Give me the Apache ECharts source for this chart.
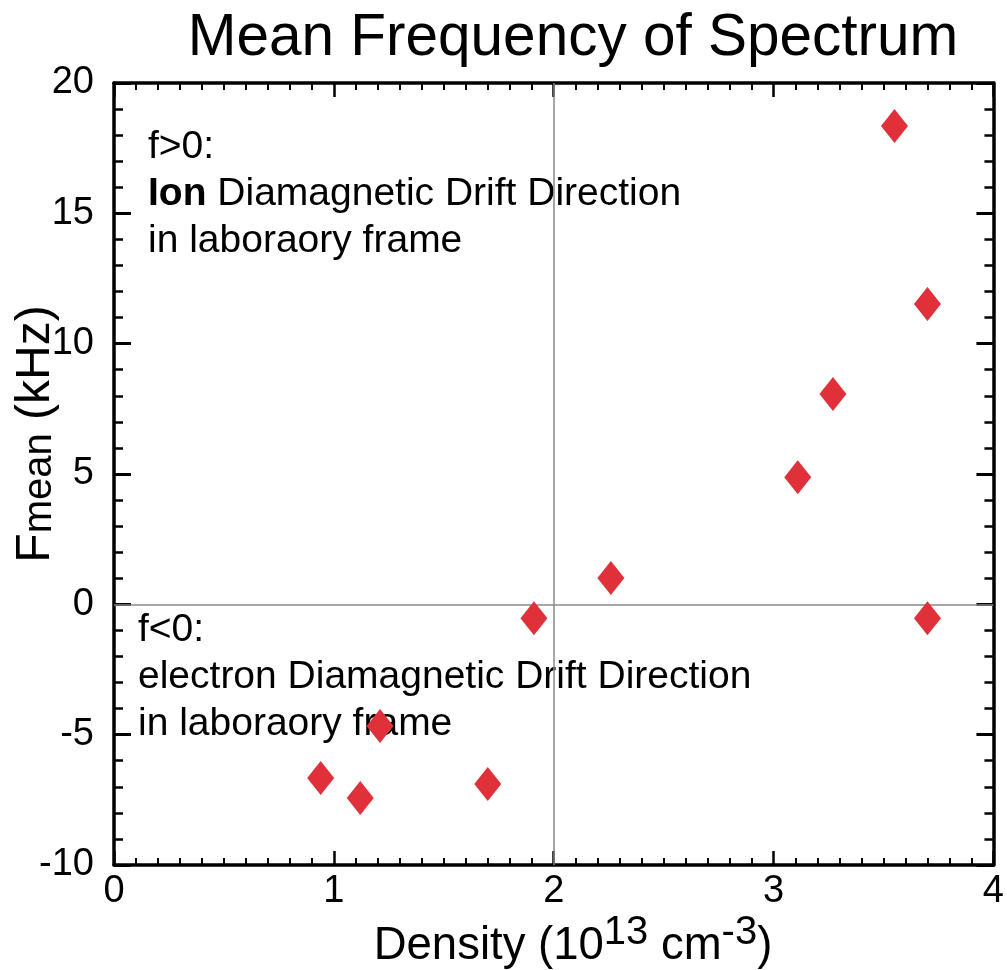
<!DOCTYPE html>
<html>
<head>
<meta charset="utf-8">
<title>Mean Frequency of Spectrum</title>
<script src="https://cdn.jsdelivr.net/npm/echarts@6/dist/echarts.min.js"></script>
<style>
  html, body { margin: 0; padding: 0; background: #fff; }
  #chart { width: 1007px; height: 970px; }
</style>
</head>
<body>
<div id="chart"></div>
<script>
// density (10^13 cm^-3)
const density = [3.55, 3.70, 3.27, 3.11, 2.26, 1.91, 3.70, 1.21, 0.94, 1.12, 1.70];
// mean frequency (kHz)
const fmean = [18.35, 11.52, 8.07, 4.88, 1.01, -0.53, -0.53, -4.67, -6.66, -7.43, -6.89];

const xTicks = { min: 0, max: 4, interval: 1 };
const yTicks = { min: -10, max: 20, interval: 5 };

const FONT = "'Liberation Sans', Arial, Helvetica, sans-serif";
const RED = '#e0313a';

const points = density.map((d, i) => [d, fmean[i]]);

function xAxisOpt(pos, showLabel) {
  return {
    type: 'value',
    position: pos,
    min: xTicks.min,
    max: xTicks.max,
    interval: xTicks.interval,
    axisLine: { show: true, onZero: false, lineStyle: { color: '#000', width: 3.5 } },
    axisTick: { show: true, inside: true, length: 14, lineStyle: { color: '#000', width: 2.5 } },
    minorTick: { show: true, splitNumber: 10, length: 7, lineStyle: { color: '#000', width: 2 } },
    axisLabel: {
      show: showLabel, color: '#000', fontSize: 38, fontFamily: FONT, margin: 8,
      showMinLabel: true, showMaxLabel: true
    },
    splitLine: { show: false }
  };
}

function yAxisOpt(pos, showLabel) {
  return {
    type: 'value',
    position: pos,
    min: yTicks.min,
    max: yTicks.max,
    interval: yTicks.interval,
    axisLine: { show: true, onZero: false, lineStyle: { color: '#000', width: 3.5 } },
    axisTick: { show: true, inside: true, length: 17, lineStyle: { color: '#000', width: 3 } },
    minorTick: { show: true, splitNumber: 5, length: 9, lineStyle: { color: '#000', width: 2.5 } },
    axisLabel: {
      show: showLabel, color: '#000', fontSize: 38, fontFamily: FONT, margin: 20,
      showMinLabel: true, showMaxLabel: true
    },
    splitLine: { show: false }
  };
}

const chart = echarts.init(document.getElementById('chart'), null, { renderer: 'canvas' });

chart.setOption({
  backgroundColor: '#fff',
  animation: false,
  title: {
    text: 'Mean Frequency of Spectrum',
    left: 568,
    textAlign: 'center',
    top: 4,
    textStyle: { color: '#000', fontSize: 58.5, fontWeight: 'normal', fontFamily: FONT }
  },
  grid: { left: 114, right: 12, top: 83, bottom: 105, containLabel: false },
  xAxis: [xAxisOpt('bottom', true), xAxisOpt('top', false)],
  yAxis: [yAxisOpt('left', true), yAxisOpt('right', false)],
  series: [{
    type: 'scatter',
    xAxisIndex: 0,
    yAxisIndex: 0,
    data: points,
    symbol: 'diamond',
    symbolSize: [27, 34],
    itemStyle: { color: RED, opacity: 1 },
    z: 5,
    markLine: {
      silent: true,
      symbol: ['none', 'none'],
      label: { show: false },
      lineStyle: { color: '#888', width: 1.5, type: 'solid' },
      data: [{ xAxis: 2 }, { yAxis: 0 }],
      z: 1
    }
  }],
  graphic: [
    {
      type: 'text',
      left: 148,
      top: 124,
      style: {
        text: 'f>0:\n{b|Ion} Diamagnetic Drift Direction\nin laboraory frame',
        font: '39px ' + FONT,
        fill: '#000',
        lineHeight: 47,
        rich: {
          b: { fontWeight: 'bold', fontSize: 39, fontFamily: FONT, lineHeight: 47 }
        }
      }
    },
    {
      type: 'text',
      left: 138,
      top: 607,
      style: {
        text: 'f<0:\nelectron Diamagnetic Drift Direction\nin laboraory frame',
        font: '39px ' + FONT,
        fill: '#000',
        lineHeight: 47
      }
    },
    {
      type: 'text',
      x: 573,
      y: 969,
      style: {
        text: '{a|Density (10}{s|13}{a| cm}{s|-3}{a|)}',
        align: 'center',
        verticalAlign: 'bottom',
        rich: {
          a: { fontSize: 45.5, fontFamily: FONT, fill: '#000', lineHeight: 56, verticalAlign: 'bottom' },
          s: { fontSize: 40, fontFamily: FONT, fill: '#000', lineHeight: 40, verticalAlign: 'top' }
        }
      }
    },
    {
      type: 'text',
      x: 36,
      y: 434,
      rotation: Math.PI / 2,
      style: {
        text: '{a|F}{m|mean}{a| (kHz)}',
        align: 'center',
        verticalAlign: 'middle',
        rich: {
          a: { fontSize: 48, fontFamily: FONT, fill: '#000', verticalAlign: 'bottom' },
          m: { fontSize: 40, fontFamily: FONT, fill: '#000', verticalAlign: 'bottom' }
        }
      }
    }
  ]
});
</script>
</body>
</html>
